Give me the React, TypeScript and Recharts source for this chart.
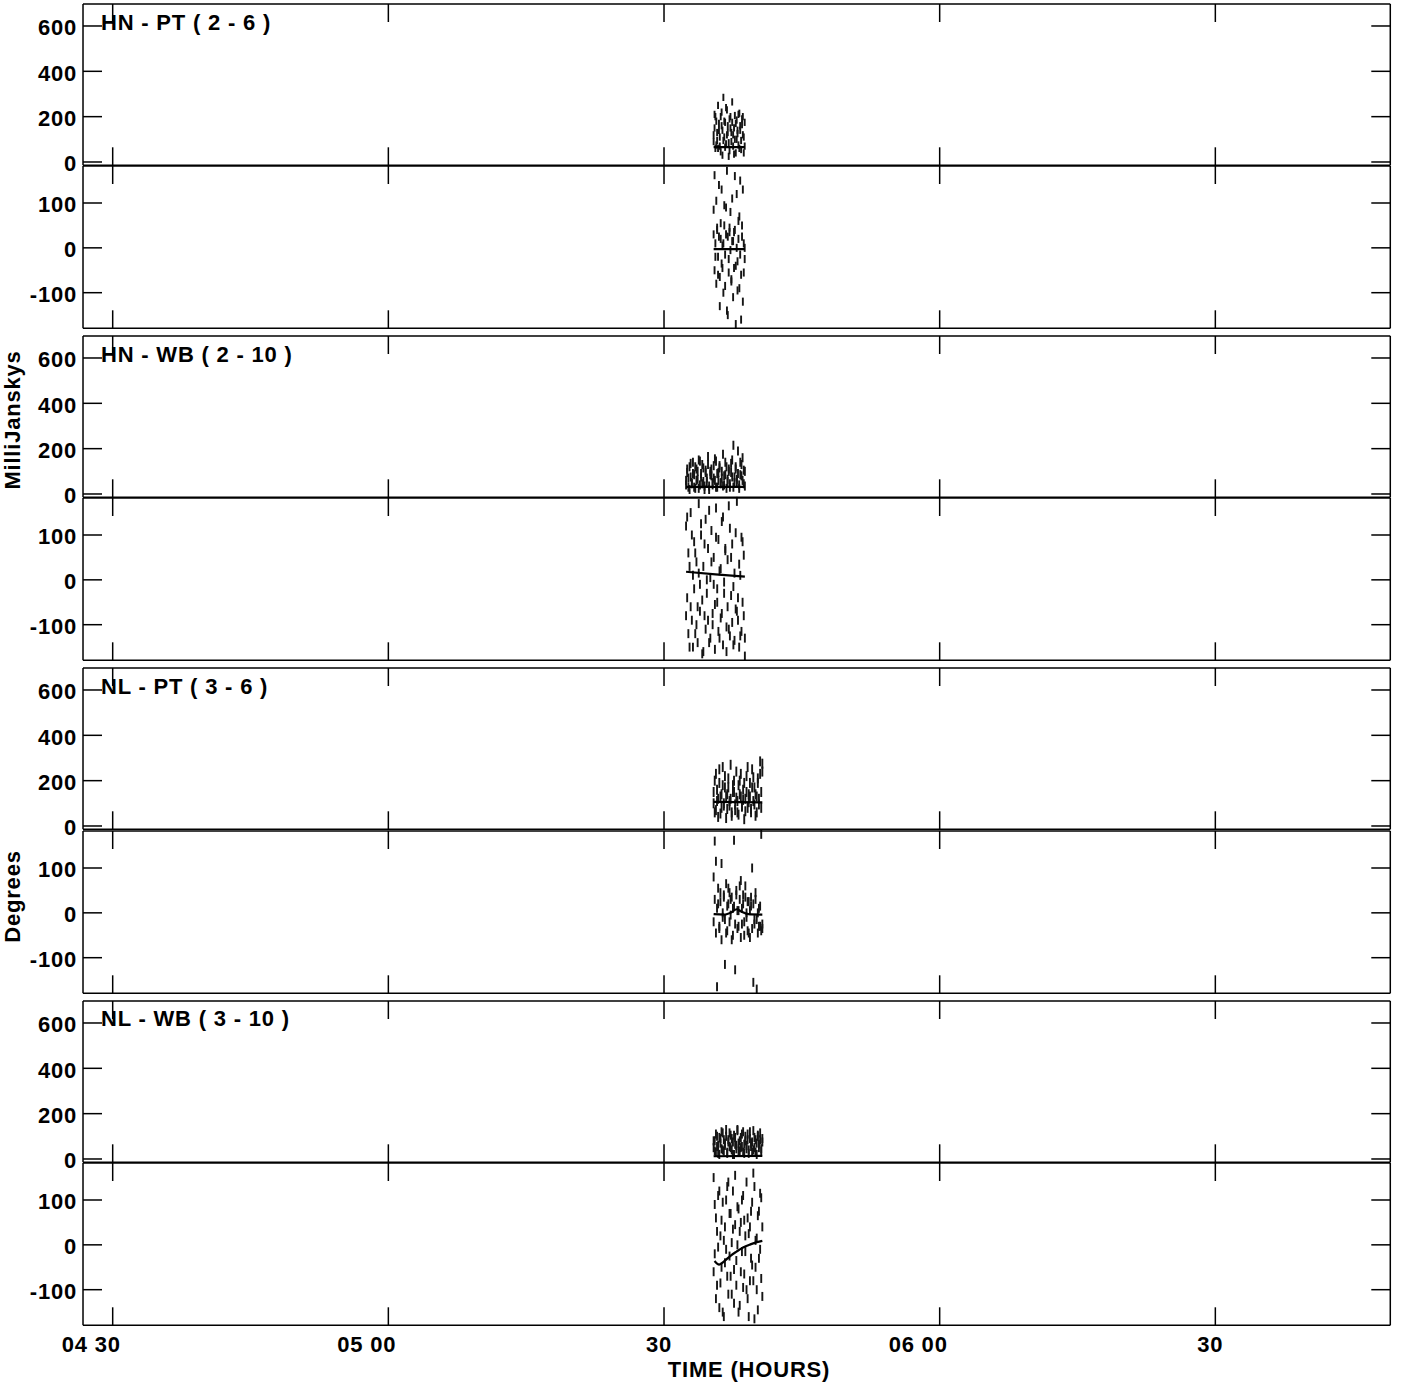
import React from "react";
import { ComposedChart, Scatter, Line, XAxis, YAxis, ErrorBar } from "recharts";

// time axis is minutes after 04:00
const xDomain = [26.77, 169.04];
const xTickValues = [30, 60, 90, 120, 150];
const xTickLabels = ["04 30", "05 00", "30", "06 00", "30"];

const ampDomain = [-14.6, 697];
const ampTicks = [0, 200, 400, 600];
const phaseDomain = [-179.4, 182.5];
const phaseTicks = [-100, 0, 100];

const baselineTitles = ["HN - PT ( 2 - 6 )", "HN - WB ( 2 - 10 )", "NL - PT ( 3 - 6 )", "NL - WB ( 3 - 10 )"];

// HN - PT
const hnPtTimes = [95.4, 95.5, 95.59, 95.69, 95.78, 95.88, 95.98, 96.07, 96.17, 96.27, 96.36, 96.46, 96.56, 96.65, 96.75, 96.85, 96.94, 97.04, 97.13, 97.23, 97.33, 97.42, 97.52, 97.62, 97.71, 97.81, 97.91, 98.0, 98.1, 98.2, 98.29, 98.39, 98.49, 98.58, 98.68, 98.78];
const hnPtAmp = [120, 210, 60, 180, 95, 250, 140, 70, 200, 160, 30, 285, 110, 175, 80, 230, 130, 25, 190, 150, 90, 265, 120, 35, 205, 170, 100, 140, 75, 215, 160, 55, 190, 120, 40, 175];
const hnPtAmp2 = [90, 150, 200, 75, 130, 60, 170, 110, 45, 220, 140, 95, 180, 65, 240, 120, 160, 85, 50, 200, 130, 175, 70, 150, 100, 40, 185, 125, 210, 60, 140, 95, 165, 200, 110, 70];
const hnPtPhase = [85, 162, -20, 105, 40, -60, 25, -130, 55, 130, -45, 10, 95, -85, 30, 172, -150, -25, 45, 80, -70, 15, -110, 35, 160, -40, 120, -95, 20, 70, -15, -160, 50, 130, -55, 0];
const hnPtPhase2 = [30, -50, 10, -80, 45, -20, 140, -65, 20, -35, 5, -100, 50, -15, 90, -140, 25, -55, 35, -5, -75, 110, 15, -45, 40, -170, 0, -30, 60, -90, 150, -60, 25, -120, 10, -25];
const hnPtAmpErr = 16;
const hnPtPhaseErr = 9;
const hnPtAmpModelT = [95.4, 98.8];
const hnPtAmpModel = [66, 66];
const hnPtPhaseModelT = [95.4, 98.8];
const hnPtPhaseModel = [-3, -3];

// HN - WB
const hnWbTimes = [92.4, 92.52, 92.65, 92.78, 92.9, 93.03, 93.15, 93.28, 93.4, 93.53, 93.66, 93.78, 93.91, 94.03, 94.16, 94.28, 94.41, 94.53, 94.66, 94.79, 94.91, 95.04, 95.16, 95.29, 95.41, 95.54, 95.66, 95.79, 95.92, 96.04, 96.17, 96.29, 96.42, 96.54, 96.67, 96.8, 96.92, 97.05, 97.17, 97.3, 97.42, 97.55, 97.67, 97.8, 97.93, 98.05, 98.18, 98.3, 98.43, 98.55, 98.68, 98.8];
const hnWbAmp = [60, 95, 30, 120, 75, 45, 140, 85, 25, 110, 65, 150, 40, 90, 130, 55, 20, 105, 70, 165, 35, 100, 80, 50, 125, 60, 145, 30, 95, 115, 45, 70, 175, 40, 85, 120, 55, 100, 30, 135, 75, 215, 50, 110, 65, 90, 25, 140, 80, 160, 45, 100];
const hnWbAmp2 = [40, 110, 70, 20, 135, 50, 90, 30, 120, 60, 100, 25, 145, 75, 45, 115, 35, 95, 55, 130, 20, 85, 110, 40, 70, 155, 30, 90, 60, 125, 50, 100, 35, 80, 140, 25, 65, 110, 45, 95, 150, 30, 75, 120, 55, 190, 40, 85, 130, 60, 105, 35];
const hnWbPhase = [120, -40, 60, -150, 150, -90, 10, 85, -120, 40, -60, 170, -10, 100, -165, 30, -80, 135, -30, 70, -140, 5, 110, -100, 50, -55, 160, -20, 90, -130, 25, -75, 140, -5, 65, -160, 45, -110, 115, -35, 80, -145, 15, -65, 175, -90, 35, -125, 95, -50, 55, -170];
const hnWbPhase2 = [-80, 140, -120, 30, -60, 100, -150, -20, 60, -100, -140, 15, -70, 125, -45, -160, 80, -110, 0, -90, 155, -130, 40, -75, -10, -155, 95, -50, -115, 20, -85, 130, -145, -30, 70, -105, -60, 165, -125, 50, -95, -15, -135, 105, -70, -40, -150, 10, -115, 85, -80, -130];
const hnWbAmpErr = 20;
const hnWbPhaseErr = 10;
const hnWbAmpModelT = [92.4, 98.8];
const hnWbAmpModel = [31, 31];
const hnWbPhaseModelT = [92.4, 95.6, 98.8];
const hnWbPhaseModel = [18, 12, 7];

// NL - PT and NL - WB share the same scans
const nlTimes = [95.4, 95.52, 95.65, 95.77, 95.89, 96.02, 96.14, 96.26, 96.39, 96.51, 96.63, 96.76, 96.88, 97.0, 97.13, 97.25, 97.37, 97.5, 97.62, 97.74, 97.87, 97.99, 98.11, 98.24, 98.36, 98.48, 98.61, 98.73, 98.85, 98.98, 99.1, 99.22, 99.35, 99.47, 99.59, 99.72, 99.84, 99.96, 100.09, 100.21, 100.33, 100.46, 100.58, 100.7];
const nlPtAmp = [150, 60, 230, 110, 40, 190, 130, 80, 260, 100, 170, 35, 140, 210, 90, 120, 60, 180, 150, 70, 240, 110, 50, 200, 130, 90, 160, 30, 120, 220, 80, 140, 190, 60, 250, 110, 170, 45, 130, 210, 95, 285, 150, 240];
const nlPtAmp2 = [100, 200, 70, 160, 120, 250, 55, 140, 180, 90, 220, 130, 75, 170, 110, 270, 45, 150, 200, 95, 125, 60, 180, 140, 230, 85, 115, 190, 65, 150, 260, 105, 130, 75, 170, 215, 95, 140, 60, 190, 120, 230, 80, 275];
const nlPtPhase = [80, 160, 115, -165, 20, -30, 45, 110, -10, 35, -115, -45, 15, 55, -20, 30, -60, 10, 162, -127, 40, -35, 5, 60, 72, -25, 20, -50, 35, 0, -40, 25, -55, 15, 100, -155, -15, 30, -170, -45, 10, -30, 175, -35];
const nlPtPhase2 = [-20, 30, -45, 10, 55, -35, 25, -60, 0, 40, -15, 65, -40, 20, 45, -5, 35, -50, 15, -25, 50, 5, -30, 30, -55, 10, 40, -20, 60, -10, 25, -45, 5, 35, -35, 20, -25, 45, -15, 0, -30, 15, -40, -25];
const nlPtAmpErr = 22;
const nlPtPhaseErr = 10;
const nlPtAmpModelT = [95.4, 100.7];
const nlPtAmpModel = [106, 104];
const nlPtPhaseModelT = [95.4, 96.5, 97.4, 97.9, 98.4, 99.2, 100.7];
const nlPtPhaseModel = [-3, -4, 2, 8, 3, -3, -4];

const nlWbAmp = [50, 80, 30, 100, 60, 20, 90, 45, 115, 35, 70, 130, 25, 85, 55, 105, 40, 75, 20, 95, 60, 125, 35, 80, 50, 110, 30, 65, 100, 45, 85, 25, 120, 55, 75, 40, 95, 30, 70, 105, 50, 85, 35, 90];
const nlWbAmp2 = [80, 35, 110, 55, 25, 95, 70, 120, 40, 85, 60, 100, 30, 75, 115, 50, 90, 20, 105, 65, 45, 130, 70, 35, 95, 55, 120, 25, 80, 60, 110, 40, 90, 70, 30, 125, 50, 85, 20, 100, 65, 115, 45, 75];
const nlWbPhase = [150, -20, 60, -90, 110, -140, 20, -50, 95, -160, 40, -10, 130, -110, 70, -70, 5, 120, -130, 45, -35, 85, -150, 30, -60, 100, -95, 55, -15, 140, -120, 25, -80, 75, -45, 160, -165, 10, -100, 65, -30, 115, -75, 40];
const nlWbPhase2 = [-60, 90, -120, 30, -5, 120, -85, 55, -150, 10, -40, 100, -70, 140, -25, 70, -110, 35, -55, 155, -90, 0, 80, -135, 50, -15, 110, -65, 20, -100, 60, -160, 40, -30, 95, -80, 130, -50, 15, -145, 75, -10, 105, -115];
const nlWbAmpErr = 20;
const nlWbPhaseErr = 10;
const nlWbAmpModelT = [95.4, 100.7];
const nlWbAmpModel = [12, 14];
const nlWbPhaseModelT = [95.5, 96.0, 96.6, 97.2, 97.9, 98.6, 99.4, 100.1, 100.7];
const nlWbPhaseModel = [-36, -44, -36, -25, -15, -6, 1, 6, 9];

const W = 1401;
const PLOT_LEFT = 83;
const PLOT_RIGHT = 1390.3;
const PITCH = 332.3;
const AMP_TOP = 3.7;
const AMP_H = 161.3;
const PHASE_TOP = 166;
const PHASE_H = 162.3;

const FONT: React.CSSProperties = {
  fontFamily: "'Liberation Sans', Arial, sans-serif",
  fontWeight: 700,
  fontSize: 22,
  letterSpacing: 0.8,
};

type Row = { t: number; v: number; e: number };

const rows = (t: number[], v: number[], e: number): Row[] => t.map((x, i) => ({ t: x, v: v[i], e }));
const line = (t: number[], v: number[]) => t.map((x, i) => ({ t: x, v: v[i] }));

const LeftTick = ({ x, y, payload }: any) => (
  <g>
    <line x1={x} x2={x + 19} y1={y} y2={y} stroke="#000" strokeWidth={1.5} />
    <text x={x - 6} y={y + 9.5} textAnchor="end" fill="#000" style={FONT}>
      {payload.value}
    </text>
  </g>
);

const RightTick = ({ x, y }: any) => (
  <line x1={x - 19} x2={x} y1={y} y2={y} stroke="#000" strokeWidth={1.5} />
);

const TopTick = ({ x, y }: any) => (
  <line x1={x} x2={x} y1={y} y2={y + 18} stroke="#000" strokeWidth={1.5} />
);

const makeBottomTick = (withLabel: boolean) => ({ x, y, payload }: any) => {
  const idx = xTickValues.indexOf(payload.value);
  return (
    <g>
      <line x1={x} x2={x} y1={y - 18} y2={y} stroke="#000" strokeWidth={1.5} />
      {withLabel && (
        <text x={x + 8} y={y + 27} textAnchor="end" fill="#000" style={FONT}>
          {xTickLabels[idx]}
        </text>
      )}
    </g>
  );
};

interface StripProps {
  top: number;
  height: number;
  domain: number[];
  yTicks: number[];
  sets: Row[][];
  model: { t: number; v: number }[];
  isLast?: boolean;
}

function Strip({ top, height, domain, yTicks, sets, model, isLast }: StripProps) {
  const axisH = isLast ? 60 : 1;
  const padB = isLast ? 0 : 10;
  const padT = 3;
  return (
    <div style={{ position: "absolute", left: 0, top: top - padT - 1 }}>
      <ComposedChart
        width={W}
        height={height + padT + 1 + axisH + padB}
        margin={{ top: padT, right: 0, bottom: padB, left: 0 }}
      >
        <XAxis
          dataKey="t"
          type="number"
          domain={xDomain}
          ticks={xTickValues}
          allowDataOverflow
          interval={0}
          height={axisH}
          tickSize={0}
          tickMargin={0}
          tickLine={false}
          axisLine={{ stroke: "#000", strokeWidth: 1.5 }}
          tick={makeBottomTick(!!isLast)}
        />
        <XAxis
          xAxisId="top"
          orientation="top"
          dataKey="t"
          type="number"
          domain={xDomain}
          ticks={xTickValues}
          allowDataOverflow
          interval={0}
          height={1}
          tickSize={0}
          tickMargin={0}
          tickLine={false}
          axisLine={{ stroke: "#000", strokeWidth: 1.5 }}
          tick={TopTick}
        />
        <YAxis
          dataKey="v"
          type="number"
          domain={domain}
          ticks={yTicks}
          allowDataOverflow
          interval={0}
          width={PLOT_LEFT}
          tickSize={0}
          tickMargin={0}
          tickLine={false}
          axisLine={{ stroke: "#000", strokeWidth: 1.5 }}
          tick={LeftTick}
        />
        <YAxis
          yAxisId="r"
          orientation="right"
          dataKey="v"
          type="number"
          domain={domain}
          ticks={yTicks}
          allowDataOverflow
          interval={0}
          width={W - PLOT_RIGHT}
          tickSize={0}
          tickMargin={0}
          tickLine={false}
          axisLine={{ stroke: "#000", strokeWidth: 1.5 }}
          tick={RightTick}
        />
        {sets.map((d, i) => (
          <Scatter key={i} data={d} dataKey="v" shape={() => <g />} isAnimationActive={false}>
            <ErrorBar
              dataKey="e"
              direction="y"
              width={0}
              stroke="#151515"
              strokeWidth={1.9}
              isAnimationActive={false}
            />
          </Scatter>
        ))}
        <Line
          data={model}
          dataKey="v"
          type="monotone"
          stroke="#000"
          strokeWidth={2.2}
          dot={false}
          activeDot={false}
          isAnimationActive={false}
        />
      </ComposedChart>
    </div>
  );
}

const panels = [
  {
    amp: [rows(hnPtTimes, hnPtAmp, hnPtAmpErr), rows(hnPtTimes, hnPtAmp2, hnPtAmpErr)],
    ampModel: line(hnPtAmpModelT, hnPtAmpModel),
    phase: [rows(hnPtTimes, hnPtPhase, hnPtPhaseErr), rows(hnPtTimes, hnPtPhase2, hnPtPhaseErr)],
    phaseModel: line(hnPtPhaseModelT, hnPtPhaseModel),
  },
  {
    amp: [rows(hnWbTimes, hnWbAmp, hnWbAmpErr), rows(hnWbTimes, hnWbAmp2, hnWbAmpErr)],
    ampModel: line(hnWbAmpModelT, hnWbAmpModel),
    phase: [rows(hnWbTimes, hnWbPhase, hnWbPhaseErr), rows(hnWbTimes, hnWbPhase2, hnWbPhaseErr)],
    phaseModel: line(hnWbPhaseModelT, hnWbPhaseModel),
  },
  {
    amp: [rows(nlTimes, nlPtAmp, nlPtAmpErr), rows(nlTimes, nlPtAmp2, nlPtAmpErr)],
    ampModel: line(nlPtAmpModelT, nlPtAmpModel),
    phase: [rows(nlTimes, nlPtPhase, nlPtPhaseErr), rows(nlTimes, nlPtPhase2, nlPtPhaseErr)],
    phaseModel: line(nlPtPhaseModelT, nlPtPhaseModel),
  },
  {
    amp: [rows(nlTimes, nlWbAmp, nlWbAmpErr), rows(nlTimes, nlWbAmp2, nlWbAmpErr)],
    ampModel: line(nlWbAmpModelT, nlWbAmpModel),
    phase: [rows(nlTimes, nlWbPhase, nlWbPhaseErr), rows(nlTimes, nlWbPhase2, nlWbPhaseErr)],
    phaseModel: line(nlWbPhaseModelT, nlWbPhaseModel),
  },
];

export default function App() {
  return (
    <div style={{ position: "absolute", left: 0, top: 0, width: W, height: 1384, background: "#fff" }}>
      {panels.map((p, k) => (
        <React.Fragment key={k}>
          <Strip
            top={PHASE_TOP + PITCH * k}
            height={PHASE_H}
            domain={phaseDomain}
            yTicks={phaseTicks}
            sets={p.phase}
            model={p.phaseModel}
            isLast={k === panels.length - 1}
          />
          <Strip
            top={AMP_TOP + PITCH * k}
            height={AMP_H}
            domain={ampDomain}
            yTicks={ampTicks}
            sets={p.amp}
            model={p.ampModel}
          />
        </React.Fragment>
      ))}
      <svg
        width={W}
        height={1384}
        style={{ position: "absolute", left: 0, top: 0, pointerEvents: "none" }}
      >
        {baselineTitles.map((title, k) => (
          <text key={title} x={101} y={29.5 + PITCH * k} fill="#000" style={FONT}>
            {title}
          </text>
        ))}
        <text transform="translate(19.5,420) rotate(-90)" textAnchor="middle" fill="#000" style={FONT}>
          MilliJanskys
        </text>
        <text transform="translate(19.5,896.5) rotate(-90)" textAnchor="middle" fill="#000" style={FONT}>
          Degrees
        </text>
        <text x={749} y={1377} textAnchor="middle" fill="#000" style={FONT}>
          TIME (HOURS)
        </text>
      </svg>
    </div>
  );
}
